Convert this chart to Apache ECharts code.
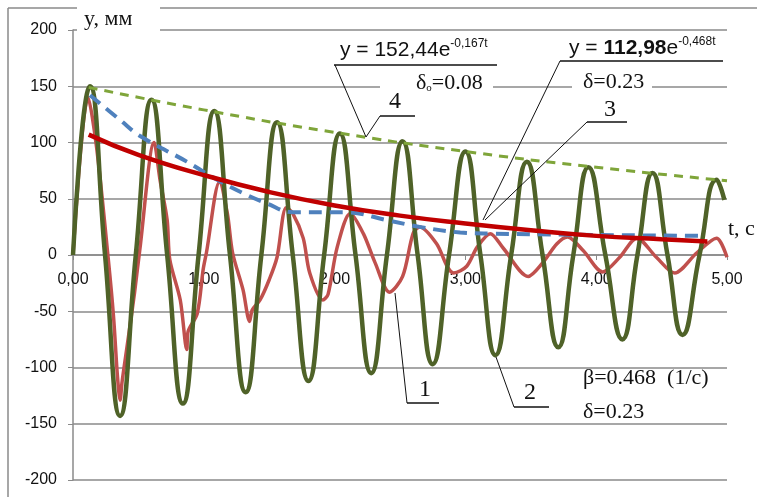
<!DOCTYPE html>
<html>
<head>
<meta charset="utf-8">
<script src="https://cdn.jsdelivr.net/npm/echarts@6/dist/echarts.min.js"></script>
<style>
  html, body { margin: 0; padding: 0; background: #fff; }
  #chart { width: 757px; height: 497px; }
</style>
</head>
<body>
<div id="chart"></div>
<script>
// tick labels
var xTickLabels = ['0,00', '1,00', '2,00', '3,00', '4,00', '5,00'];
var yTicks = [-200, -150, -100, -50, 0, 50, 100, 150, 200];

// curve 1 - measured oscillation (red)
var c1T = [0, 0.115, 0.18, 0.27, 0.31, 0.34, 0.36, 0.375, 0.41, 0.47, 0.51, 0.62, 0.665, 0.72, 0.74, 0.82, 0.87, 0.88, 0.95, 0.995, 1.02,
  1.12, 1.18, 1.22, 1.30, 1.35, 1.37, 1.43, 1.50, 1.56, 1.63, 1.68, 1.76, 1.81, 1.91, 1.95, 2.02, 2.12, 2.22, 2.31, 2.42, 2.52,
  2.60, 2.65, 2.78, 2.86, 2.91, 3.01, 3.09, 3.19, 3.29, 3.48, 3.59, 3.70, 3.78, 3.90, 4.05, 4.18, 4.31, 4.46, 4.60, 4.77, 4.92, 5.0];
var c1Y = [0, 140, 96, -4, -55, -108, -129, -113, -84, -34, 4, 100, 67, 31, -4, -40, -84, -68, -52, -13, 2,
  65, 37, 2, -31, -59, -49, -40, -22, -2, 42, 37, 15, -16, -40, -35, 7, 37, 19, -7, -33, -19,
  19, 25, 10, -10, -16, -10, 7, 19, 6, -19, -7, 10, 16, 4, -15, -2, 15, -2, -16, 2, 15, -2];

// curve 2 - free oscillation (dark green)
var c2T = [0, 0.13, 0.245, 0.36, 0.48, 0.60, 0.72, 0.84, 0.96, 1.08, 1.20, 1.32, 1.44, 1.56, 1.68, 1.80, 1.92, 2.04, 2.16, 2.28,
  2.40, 2.52, 2.635, 2.75, 2.875, 3.00, 3.115, 3.23, 3.35, 3.47, 3.59, 3.71, 3.825, 3.94, 4.07, 4.20, 4.315, 4.43, 4.545, 4.66,
  4.79, 4.92, 4.98];
var c2Y = [0, 150, 0, -143, 0, 138, 0, -132, 0, 128, 0, -122, 0, 118, 0, -112, 0, 108, 0, -105,
  0, 101, 0, -97, 0, 92, 0, -89, 0, 83, 0, -82, 0, 78, 0, -75, 0, 73, 0, -71,
  0, 67, 49];

// envelope of curve 1 (blue dashed)
var envT = [0.13, 0.36, 0.51, 0.87, 1.07, 1.30, 1.48, 1.68, 2.09, 2.40, 2.65, 2.96, 3.21, 3.82, 4.79];
var envY = [142, 120, 106, 83, 69, 55, 46, 38, 38, 31, 25, 20, 19, 18, 17];

// curve 3 - y = 112,98e^-0,468t (red)
var c3T = [0.12, 0.5, 1, 1.5, 2, 2.5, 3, 3.5, 4, 4.5, 4.85];
var c3Y = [107, 89, 71, 56, 44, 35, 28, 22, 17, 14, 12];

// curve 4 - y = 152,44e^-0,167t (green dashed)
var c4T = [0.12, 1, 2, 3, 4, 5];
var c4Y = [149, 129, 109, 92, 78, 66];

function pairs(t, y) {
  return t.map(function (v, i) { return [v, y[i]]; });
}

var myChart = echarts.init(document.getElementById('chart'));

var sans = 'Liberation Sans';
var serifFont = '22px "Liberation Serif"';
var numFont = '24px "Liberation Serif"';

option = {
  animation: false,
  backgroundColor: '#fff',
  grid: { left: 73, right: 30, top: 30, bottom: 17, outerBoundsMode: 'none', containLabel: false },
  xAxis: {
    type: 'value',
    min: 0,
    max: 5,
    interval: 1,
    offset: -225, // put the t axis on the zero line
    axisLine: { show: true, onZero: false, lineStyle: { color: '#8a8a8a', width: 1.5 } },
    axisTick: { show: true, length: 5, lineStyle: { color: '#8a8a8a' } },
    axisLabel: {
      margin: 17,
      color: '#111',
      fontFamily: sans,
      fontSize: 16,
      formatter: function (v) { return xTickLabels[Math.round(v)]; }
    },
    splitLine: { show: false }
  },
  yAxis: {
    type: 'value',
    min: yTicks[0],
    max: yTicks[yTicks.length - 1],
    interval: 50,
    axisLine: { show: true, onZero: false, lineStyle: { color: '#8a8a8a', width: 1.5 } },
    axisTick: { show: true, length: 5, lineStyle: { color: '#8a8a8a' } },
    axisLabel: { margin: 16, color: '#111', fontFamily: sans, fontSize: 16 },
    splitLine: { lineStyle: { color: '#8a8a8a', width: 1.5 } }
  },
  series: [
    {
      name: '1', type: 'line', data: pairs(c1T, c1Y), showSymbol: false, smooth: 0.3, z: 2,
      lineStyle: { color: '#c0504d', width: 3.5 }
    },
    {
      name: '2', type: 'line', data: pairs(c2T, c2Y), showSymbol: false, smooth: 0.5, z: 3,
      lineStyle: { color: '#4f6228', width: 4.5 }
    },
    {
      name: 'env', type: 'line', data: pairs(envT, envY), showSymbol: false, smooth: 0.4, z: 4,
      lineStyle: { color: '#4f81bd', width: 4, type: [13, 8] }
    },
    {
      name: '3', type: 'line', data: pairs(c3T, c3Y), showSymbol: false, smooth: true, z: 5,
      lineStyle: { color: '#c00000', width: 4.5 }
    },
    {
      name: '4', type: 'line', data: pairs(c4T, c4Y), showSymbol: false, smooth: true, z: 6,
      lineStyle: { color: '#7fa53a', width: 3, type: [9, 7] }
    }
  ],
  graphic: [
    // outer frame
    { type: 'line', shape: { x1: 8, y1: 8, x2: 757, y2: 8 }, style: { stroke: '#8a8a8a', lineWidth: 1.5 }, z: 1 },
    { type: 'line', shape: { x1: 8, y1: 8, x2: 8, y2: 497 }, style: { stroke: '#8a8a8a', lineWidth: 1.5 }, z: 1 },
    // axis titles
    { type: 'rect', shape: { x: 77, y: 4, width: 83, height: 32 }, style: { fill: '#fff' }, z: 20 },
    { type: 'text', x: 84, y: 8, z: 21, style: { text: 'y, мм', font: serifFont, fill: '#111' } },
    { type: 'text', x: 728, y: 218, z: 21, style: { text: 't, c', font: serifFont, fill: '#111' } },

    // formula 4
    { type: 'text', x: 340, y: 38, z: 21, style: {
      text: '{a|y = 152,44e}{s|-0,167t}',
      rich: { a: { fontFamily: sans, fontSize: 21, fill: '#111' }, s: { fontFamily: sans, fontSize: 12, fill: '#111', verticalAlign: 'top', padding: [0, 0, 12, 0] } }
    } },
    { type: 'line', shape: { x1: 334, y1: 65, x2: 497, y2: 65 }, style: { stroke: '#111', lineWidth: 1.5 }, z: 21 },
    { type: 'line', shape: { x1: 335, y1: 65, x2: 366, y2: 137 }, style: { stroke: '#111', lineWidth: 1 }, z: 21 },
    { type: 'rect', shape: { x: 380, y: 74, width: 113, height: 22 }, style: { fill: '#fff' }, z: 20 },
    { type: 'text', x: 416, y: 72, z: 21, style: {
      text: '{a|δ}{s|o}{a|=0.08}',
      rich: {
        a: { fontFamily: 'Liberation Serif', fontSize: 22, fill: '#111' },
        s: { fontFamily: 'Liberation Serif', fontSize: 11, fill: '#111', verticalAlign: 'bottom', padding: [8, 0, 0, 0] }
      }
    } },
    { type: 'text', x: 389, y: 90, z: 21, style: { text: '4', font: numFont, fill: '#111' } },
    { type: 'line', shape: { x1: 380, y1: 116, x2: 415, y2: 116 }, style: { stroke: '#111', lineWidth: 1.5 }, z: 21 },
    { type: 'line', shape: { x1: 380, y1: 116, x2: 366, y2: 137 }, style: { stroke: '#111', lineWidth: 1 }, z: 21 },

    // formula 3
    { type: 'text', x: 569, y: 36, z: 21, style: {
      text: '{a|y = }{b|112,98}{a|e}{s|-0,468t}',
      rich: {
        a: { fontFamily: sans, fontSize: 21, fill: '#111' },
        b: { fontFamily: sans, fontSize: 21, fontWeight: 'bold', fill: '#111' },
        s: { fontFamily: sans, fontSize: 12, fill: '#111', verticalAlign: 'top', padding: [0, 0, 12, 0] }
      }
    } },
    { type: 'line', shape: { x1: 560, y1: 61, x2: 723, y2: 61 }, style: { stroke: '#111', lineWidth: 1.5 }, z: 21 },
    { type: 'line', shape: { x1: 560, y1: 61, x2: 483, y2: 220 }, style: { stroke: '#111', lineWidth: 1 }, z: 21 },
    { type: 'rect', shape: { x: 572, y: 74, width: 80, height: 22 }, style: { fill: '#fff' }, z: 20 },
    { type: 'text', x: 583, y: 71, z: 21, style: { text: 'δ=0.23', font: serifFont, fill: '#111' } },
    { type: 'text', x: 604, y: 98, z: 21, style: { text: '3', font: numFont, fill: '#111' } },
    { type: 'line', shape: { x1: 587, y1: 122, x2: 627, y2: 122 }, style: { stroke: '#111', lineWidth: 1.5 }, z: 21 },
    { type: 'line', shape: { x1: 587, y1: 122, x2: 485, y2: 220 }, style: { stroke: '#111', lineWidth: 1 }, z: 21 },

    // labels 1 and 2
    { type: 'text', x: 419, y: 378, z: 21, style: { text: '1', font: numFont, fill: '#111' } },
    { type: 'line', shape: { x1: 407, y1: 403, x2: 439, y2: 403 }, style: { stroke: '#111', lineWidth: 1.5 }, z: 21 },
    { type: 'line', shape: { x1: 407, y1: 403, x2: 395, y2: 293 }, style: { stroke: '#111', lineWidth: 1 }, z: 21 },
    { type: 'text', x: 524, y: 381, z: 21, style: { text: '2', font: numFont, fill: '#111' } },
    { type: 'line', shape: { x1: 514, y1: 407, x2: 549, y2: 407 }, style: { stroke: '#111', lineWidth: 1.5 }, z: 21 },
    { type: 'line', shape: { x1: 514, y1: 407, x2: 496, y2: 357 }, style: { stroke: '#111', lineWidth: 1 }, z: 21 },

    // parameters
    { type: 'text', x: 583, y: 367, z: 21, style: { text: 'β=0.468  (1/c)', font: serifFont, fill: '#111' } },
    { type: 'text', x: 583, y: 401, z: 21, style: { text: 'δ=0.23', font: serifFont, fill: '#111' } }
  ]
};

myChart.setOption(option);
</script>
</body>
</html>
